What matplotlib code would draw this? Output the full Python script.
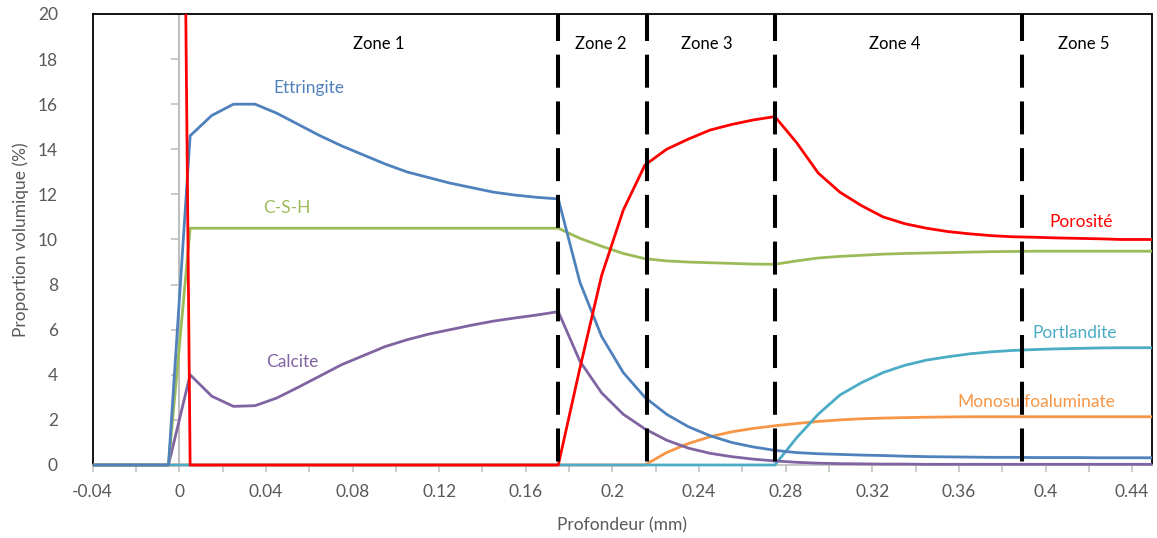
import matplotlib
matplotlib.use("Agg")
from matplotlib import pyplot as plt
from matplotlib.patches import Rectangle
import numpy as np

# Profondeur (mm) des points de calcul
depth = [-0.04, -0.005, 0.005, 0.015, 0.025, 0.035, 0.045, 0.055, 0.065, 0.075,
         0.085, 0.095, 0.105, 0.115, 0.125, 0.135, 0.145, 0.155, 0.165, 0.175,
         0.185, 0.195, 0.205, 0.215, 0.225, 0.235, 0.245, 0.255, 0.265, 0.275,
         0.285, 0.295, 0.305, 0.315, 0.325, 0.335, 0.345, 0.355, 0.365, 0.375,
         0.385, 0.395, 0.405, 0.415, 0.425, 0.435, 0.445, 0.449]

ettringite = [0, 0, 14.6, 15.5, 16.0, 16.0, 15.6, 15.1, 14.6, 14.15,
              13.75, 13.35, 13.0, 12.75, 12.5, 12.3, 12.1, 11.97, 11.87, 11.8,
              8.1, 5.7, 4.1, 3.0, 2.25, 1.7, 1.3, 1.0, 0.8, 0.65,
              0.55, 0.5, 0.47, 0.44, 0.42, 0.39, 0.37, 0.36, 0.35, 0.34,
              0.34, 0.33, 0.33, 0.33, 0.32, 0.32, 0.32, 0.32]

csh = [0, 0, 10.5, 10.5, 10.5, 10.5, 10.5, 10.5, 10.5, 10.5,
       10.5, 10.5, 10.5, 10.5, 10.5, 10.5, 10.5, 10.5, 10.5, 10.5,
       10.05, 9.7, 9.38, 9.15, 9.05, 9.0, 8.97, 8.94, 8.91, 8.9,
       9.05, 9.18, 9.25, 9.3, 9.35, 9.38, 9.4, 9.42, 9.44, 9.46,
       9.47, 9.48, 9.48, 9.48, 9.48, 9.48, 9.48, 9.48]

calcite = [0, 0, 4.0, 3.05, 2.6, 2.63, 2.97, 3.45, 3.95, 4.45,
           4.85, 5.25, 5.55, 5.8, 6.0, 6.2, 6.38, 6.52, 6.65, 6.8,
           4.6, 3.2, 2.25, 1.6, 1.1, 0.75, 0.52, 0.37, 0.26, 0.18,
           0.12, 0.08, 0.06, 0.05, 0.04, 0.04, 0.03, 0.03, 0.03, 0.03,
           0.03, 0.03, 0.03, 0.03, 0.03, 0.03, 0.03, 0.03]

portlandite = [0, 0, 0, 0, 0, 0, 0, 0, 0, 0,
               0, 0, 0, 0, 0, 0, 0, 0, 0, 0,
               0, 0, 0, 0, 0, 0, 0, 0, 0, 0,
               1.2, 2.25, 3.1, 3.65, 4.1, 4.42, 4.65, 4.8, 4.93, 5.02,
               5.08, 5.12, 5.15, 5.17, 5.19, 5.2, 5.2, 5.2]

monosulfo = [0, 0, 0, 0, 0, 0, 0, 0, 0, 0,
             0, 0, 0, 0, 0, 0, 0, 0, 0, 0,
             0, 0, 0, 0, 0.55, 0.95, 1.25, 1.47, 1.62, 1.74,
             1.84, 1.93, 2.0, 2.05, 2.08, 2.1, 2.12, 2.13, 2.14, 2.14,
             2.14, 2.14, 2.14, 2.14, 2.14, 2.14, 2.14, 2.14]

porosite = [100, 100, 0, 0, 0, 0, 0, 0, 0, 0,
            0, 0, 0, 0, 0, 0, 0, 0, 0, 0,
            4.3, 8.4, 11.3, 13.3, 14.0, 14.45, 14.85, 15.1, 15.3, 15.45,
            14.3, 12.95, 12.1, 11.5, 11.0, 10.7, 10.5, 10.35, 10.25, 10.17,
            10.12, 10.1, 10.07, 10.05, 10.03, 10.0, 10.0, 10.0]

zone_limits = [0.175, 0.216, 0.275, 0.389]
zone_names = ["Zone 1", "Zone 2", "Zone 3", "Zone 4", "Zone 5"]
zone_label_x = [0.092, 0.1945, 0.2435, 0.3305, 0.4175]

xtick_values = [-0.04, 0, 0.04, 0.08, 0.12, 0.16, 0.2, 0.24, 0.28, 0.32, 0.36, 0.4, 0.44]
xtick_labels = ["-0.04", "0", "0.04", "0.08", "0.12", "0.16", "0.2", "0.24",
                "0.28", "0.32", "0.36", "0.4", "0.44"]
ytick_values = [0, 2, 4, 6, 8, 10, 12, 14, 16, 18, 20]

plt.rcParams['font.family'] = ['Lato', 'DejaVu Sans']
grey_txt = "#595959"
grey_ax = "#BFBFBF"

fig = plt.figure(figsize=(11.57, 5.38), dpi=100)
ax = fig.add_axes([0.0801, 0.1357, 0.9153, 0.8383])
ax.set_xlim(-0.04, 0.449)
ax.set_ylim(0, 20)

# axe vertical gris a x = 0 avec ses graduations
ax.axvline(0, color=grey_ax, lw=1.5, zorder=1)
ax.plot(np.zeros(len(ytick_values)), ytick_values, ls="none", marker=0, ms=6,
        mew=1.2, color=grey_ax, clip_on=False, zorder=1)

series = [
    (monosulfo, "#F79646"),
    (portlandite, "#4BACC6"),
    (calcite, "#8064A2"),
    (csh, "#9BBB59"),
    (ettringite, "#4F81BD"),
    (porosite, "#FF0000"),
]
clip = Rectangle((0, -0.02), 1, 1.02, transform=ax.transAxes, visible=False)
ax.add_patch(clip)
for values, col in series:
    line, = ax.plot(depth, values, color=col, lw=2.0, zorder=3)
    line.set_clip_path(clip)

# limites des zones
ax.vlines(zone_limits, 20, 0, colors="black", lw=2.9,
          linestyles=(1.5, (8.2, 3.4)), zorder=4)
for name, zx in zip(zone_names, zone_label_x):
    ax.text(zx, 18.67, name, ha="center", va="center", fontsize=12, color="black")

# etiquettes des courbes
ax.text(0.0598, 16.72, "Ettringite", color="#4F81BD", fontsize=12.5, ha="center", va="center")
ax.text(0.0495, 11.4, "C-S-H", color="#9BBB59", fontsize=12.5, ha="center", va="center")
ax.text(0.052, 4.57, "Calcite", color="#8064A2", fontsize=12.5, ha="center", va="center")
ax.text(0.4165, 10.78, "Porosité", color="#FF0000", fontsize=12.5, ha="center", va="center")
ax.text(0.4135, 5.85, "Portlandite", color="#4BACC6", fontsize=12.5, ha="center", va="center")
ax.text(0.3955, 2.79, "Monosulfoaluminate", color="#F79646", fontsize=12.5, ha="center", va="center")

for side in ["left", "top", "right"]:
    ax.spines[side].set_color("black")
    ax.spines[side].set_linewidth(1.3)
ax.spines["bottom"].set_color(grey_ax)
ax.spines["bottom"].set_linewidth(1.2)

ax.set_xticks(xtick_values)
ax.set_xticklabels(xtick_labels)
ax.set_xticks(np.arange(-0.04, 0.45, 0.02), minor=True)
ax.tick_params(axis="x", which="both", direction="out", length=5, width=1.1,
               color=grey_ax, labelsize=12.5, labelcolor=grey_txt, pad=9)
ax.set_yticks(ytick_values)
ax.tick_params(axis="y", length=0, labelsize=12.5, labelcolor=grey_txt, pad=25)

ax.set_xlabel("Profondeur (mm)", fontsize=12.5, color=grey_txt, labelpad=12)
ax.set_ylabel("Proportion volumique (%)", fontsize=12.5, color=grey_txt, labelpad=6)

fig.savefig("out.png", dpi=100)
